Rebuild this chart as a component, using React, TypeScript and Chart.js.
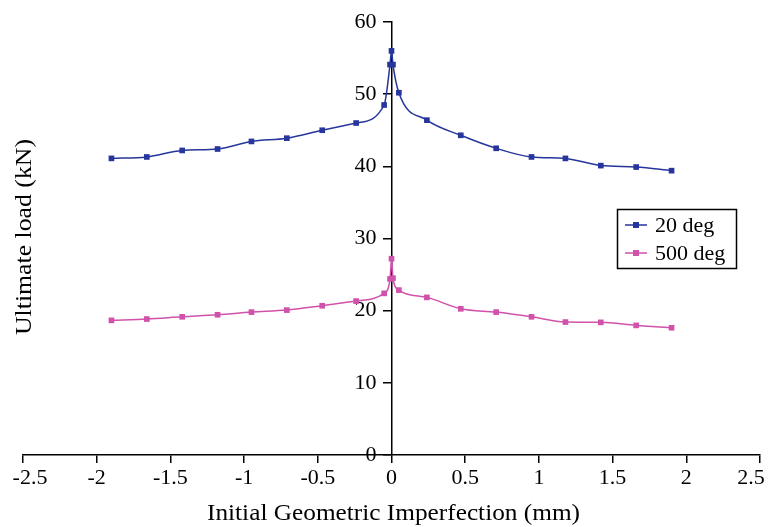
import React, { useEffect, useRef } from 'react';
import { Chart, registerables } from 'chart.js';

Chart.register(...registerables);

const FONT = "'Liberation Serif', 'Times New Roman', serif";

// Data
const imperfection = [-1.9, -1.66, -1.42, -1.18, -0.95, -0.71, -0.47, -0.24, -0.05, -0.01, 0, 0.01, 0.05, 0.24, 0.47, 0.71, 0.95, 1.18, 1.42, 1.66, 1.9];
const load20deg = [41.1, 41.3, 42.2, 42.4, 43.45, 43.9, 45.0, 46.0, 48.5, 54.1, 56.0, 54.1, 50.2, 46.4, 44.3, 42.5, 41.3, 41.1, 40.1, 39.9, 39.4];
const load500deg = [18.66, 18.84, 19.15, 19.43, 19.8, 20.08, 20.68, 21.33, 22.4, 24.4, 27.2, 24.5, 22.85, 21.84, 20.26, 19.8, 19.15, 18.42, 18.38, 17.96, 17.63];
const seriesNames = ['20 deg', '500 deg'];
const seriesColors = ['#26369c', '#d152aa'];
const xTickValues = [-2.5, -2, -1.5, -1, -0.5, 0, 0.5, 1, 1.5, 2, 2.5];
const yTickValues = [0, 10, 20, 30, 40, 50, 60];
const xTitle = 'Initial Geometric Imperfection (mm)';
const yTitle = 'Ultimate load (kN)';

const annotPlugin = {
  id: 'annot',
  beforeDraw(chart: any) {
    // y labels sit left of the tick marks of the centred axis
    const yItems = chart.scales.y.getLabelItems();
    yItems.forEach((it: any) => {
      if (!it.__shifted) { it.options.translation[0] -= 15; it.__shifted = true; }
    });
    // first / last x labels pulled inside the canvas
    const xItems = chart.scales.x.getLabelItems();
    if (xItems.length) {
      const first = xItems[0];
      const last = xItems[xItems.length - 1];
      if (!first.__shifted) { first.options.translation[0] += 7; first.__shifted = true; }
      if (!last.__shifted) { last.options.translation[0] -= 9; last.__shifted = true; }
    }
  },
  afterDraw(chart: any) {
    const ctx = chart.ctx;
    const area = chart.chartArea;
    ctx.save();
    ctx.fillStyle = '#000';
    ctx.textAlign = 'center';
    ctx.textBaseline = 'middle';
    ctx.font = `23px ${FONT}`;
    // x title
    ctx.save();
    ctx.translate((area.left + area.right) / 2 + 2, 514);
    ctx.scale(1.1, 1);
    ctx.fillText(xTitle, 0, 0);
    ctx.restore();
    // y title
    ctx.save();
    ctx.translate(25, 237);
    ctx.rotate(-Math.PI / 2);
    ctx.scale(1.12, 1);
    ctx.fillText(yTitle, 0, 0);
    ctx.restore();
    // legend
    ctx.strokeStyle = '#000';
    ctx.lineWidth = 1.5;
    ctx.strokeRect(617.5, 209.5, 119, 59);
    ctx.font = `22px ${FONT}`;
    ctx.textAlign = 'left';
    const rows = [225, 253];
    seriesNames.forEach((name, i) => {
      const y = rows[i];
      ctx.strokeStyle = seriesColors[i];
      ctx.lineWidth = 1.5;
      ctx.beginPath();
      ctx.moveTo(625, y);
      ctx.lineTo(647, y);
      ctx.stroke();
      ctx.fillStyle = seriesColors[i];
      ctx.fillRect(633, y - 3, 6, 6);
      ctx.fillStyle = '#000';
      ctx.fillText(name, 655, y + 1);
    });
    ctx.restore();
  },
};

export default function App() {
  const ref = useRef<HTMLCanvasElement | null>(null);
  useEffect(() => {
    if (!ref.current) return;
    const mk = (vals: number[]) => imperfection.map((x, i) => ({ x, y: vals[i] }));
    const ds = (i: number, vals: number[]) => ({
      label: seriesNames[i],
      data: mk(vals),
      borderColor: seriesColors[i],
      backgroundColor: seriesColors[i],
      borderWidth: 1.5,
      pointStyle: 'rect',
      pointRadius: 4,
      pointBorderWidth: 0,
      cubicInterpolationMode: 'monotone',
      fill: false,
    });
    const chart = new Chart(ref.current, {
      type: 'line',
      data: { datasets: [ds(0, load20deg), ds(1, load500deg)] },
      options: {
        animation: false,
        responsive: false,
        maintainAspectRatio: false,
        layout: { padding: { left: 23, right: 10, top: 22, bottom: 0 } },
        plugins: { legend: { display: false }, tooltip: { enabled: false } },
        scales: {
          x: {
            type: 'linear',
            position: 'bottom',
            min: xTickValues[0],
            max: xTickValues[xTickValues.length - 1],
            afterBuildTicks: (s: any) => { s.ticks = xTickValues.map((v) => ({ value: v })); },
            ticks: {
              font: { family: FONT, size: 22 },
              color: '#000',
              padding: 2,
              maxRotation: 0,
              autoSkip: false,
              callback: (v: any) => String(v),
            },
            grid: { display: true, drawOnChartArea: false, drawTicks: true, tickLength: 8, color: '#000', lineWidth: 1.5 },
            border: { display: true, color: '#000', width: 1.5 },
            afterFit: (s: any) => { s.height = 72; s.paddingLeft = 0; s.paddingRight = 0; },
          },
          y: {
            type: 'linear',
            position: { x: 0 } as any,
            min: yTickValues[0],
            max: yTickValues[yTickValues.length - 1],
            afterBuildTicks: (s: any) => { s.ticks = yTickValues.map((v) => ({ value: v })); },
            ticks: {
              font: { family: FONT, size: 22 },
              color: '#000',
              padding: 7,
              callback: (v: any) => String(v),
            },
            grid: { display: true, drawOnChartArea: false, drawTicks: true, tickLength: 8, color: '#000', lineWidth: 1.5 },
            border: { display: true, color: '#000', width: 1.5 },
          },
        },
      },
      plugins: [annotPlugin],
    } as any);
    return () => chart.destroy();
  }, []);
  return (
    <div style={{ position: 'absolute', left: 0, top: 0, width: 770, height: 527, background: '#fff' }}>
      <canvas ref={ref} width={770} height={527} style={{ width: 770, height: 527, display: 'block' }} />
    </div>
  );
}
